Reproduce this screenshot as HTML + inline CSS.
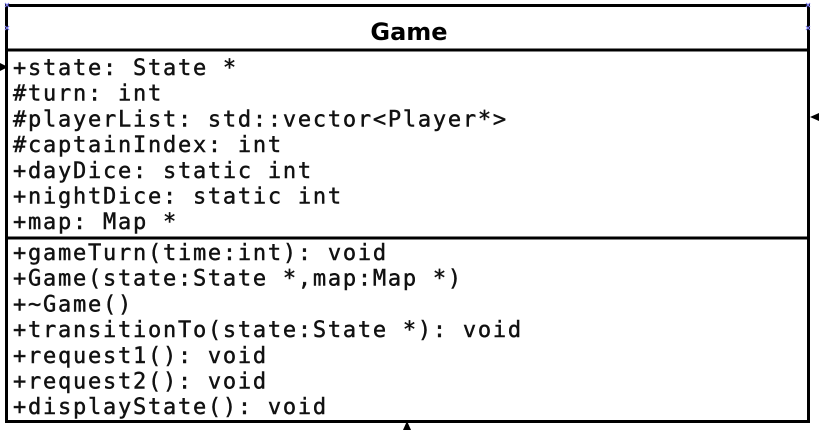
<!DOCTYPE html>
<html><head><meta charset="utf-8"><style>
html,body{margin:0;padding:0;background:#fff;width:819px;height:430px;overflow:hidden}
svg text.m{font-family:"DejaVu Sans Mono","Liberation Mono",monospace;font-size:22px;letter-spacing:1.75px;fill:#111;stroke:#111;stroke-width:0.45px}
</style></head><body>
<svg width="819" height="430" viewBox="0 0 819 430" xmlns="http://www.w3.org/2000/svg">
<rect x="6.5" y="5.5" width="802" height="416" fill="#fff" stroke="#000" stroke-width="3"/>
<line x1="6" y1="50" x2="809" y2="50" stroke="#000" stroke-width="3"/>
<line x1="6" y1="238" x2="809" y2="238" stroke="#000" stroke-width="3"/>
<text x="409" y="40" text-anchor="middle" font-family="DejaVu Sans,Liberation Sans,sans-serif" font-weight="bold" font-size="24" fill="#000">Game</text>
<g>
<text class="m" x="13" y="75">+state: State *</text>
<text class="m" x="13" y="100.7">#turn: int</text>
<text class="m" x="13" y="126.4">#playerList: std::vector&lt;Player*&gt;</text>
<text class="m" x="13" y="152.1">#captainIndex: int</text>
<text class="m" x="13" y="177.8">+dayDice: static int</text>
<text class="m" x="13" y="203.5">+nightDice: static int</text>
<text class="m" x="13" y="229.2">+map: Map *</text>
<text class="m" x="13" y="260">+gameTurn(time:int): void</text>
<text class="m" x="13" y="285.7">+Game(state:State *,map:Map *)</text>
<text class="m" x="13" y="311.4">+~Game()</text>
<text class="m" x="13" y="337.1">+transitionTo(state:State *): void</text>
<text class="m" x="13" y="362.8">+request1(): void</text>
<text class="m" x="13" y="388.5">+request2(): void</text>
<text class="m" x="13" y="414.2">+displayState(): void</text>
</g>
<polygon points="0,63 8,67 0,71" fill="#000"/>
<polygon points="819,113 810,117 819,121" fill="#000"/>
<polygon points="403,430 407,421 411,430" fill="#000"/>
<g stroke="#7b7bf0" stroke-width="1.2">
<path d="M5,3l4,4M9,3l-4,4M806,3l4,4M810,3l-4,4M5,26l4,4M9,26l-4,4M806,26l4,4M810,26l-4,4"/>
</g>
</svg>
</body></html>
